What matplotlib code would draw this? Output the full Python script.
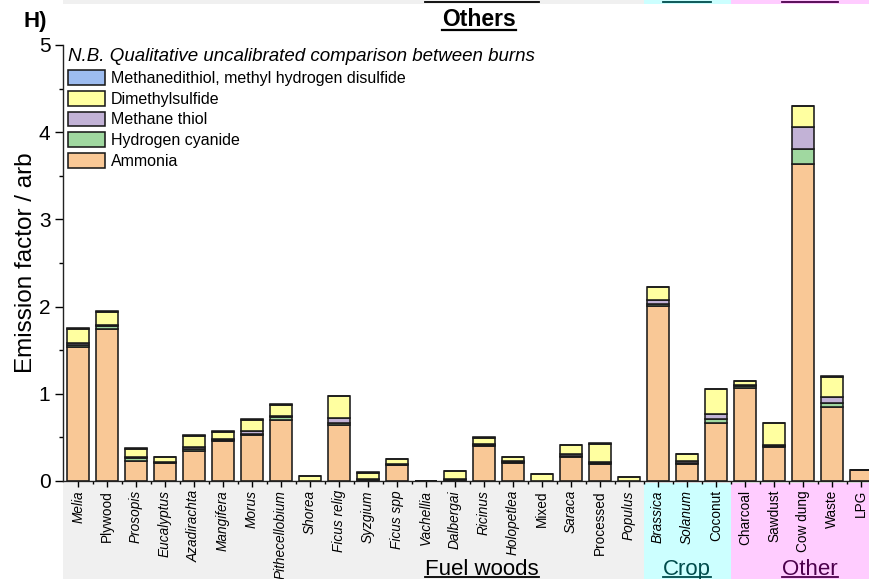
import matplotlib
matplotlib.use('Agg')
import matplotlib.pyplot as plt
from matplotlib.patches import Rectangle
from matplotlib.lines import Line2D
import matplotlib.transforms as mtransforms
import numpy as np

plt.rcParams['font.family'] = ['Liberation Sans', 'DejaVu Sans']

categories = ["Melia", "Plywood", "Prosopis", "Eucalyptus", "Azadirachta", "Mangifera",
              "Morus", "Pithecellobium", "Shorea", "Ficus relig", "Syzgium", "Ficus spp",
              "Vachellia", "Dalbergai", "Ricinus", "Holopetlea", "Mixed", "Saraca",
              "Processed", "Populus", "Brassica", "Solanum", "Coconut", "Charcoal",
              "Sawdust", "Cow dung", "Waste", "LPG"]
italic = [True, False, True, True, True, True, True, True, True, True, True, True,
          True, True, True, True, False, True, False, True, True, True, False, False,
          False, False, False, False]

ammonia = [1.54, 1.74, 0.23, 0.21, 0.345, 0.455, 0.53, 0.70, 0.005, 0.64, 0.015, 0.18,
           0.003, 0.01, 0.40, 0.21, 0.005, 0.27, 0.195, 0.005, 2.01, 0.19, 0.67, 1.063,
           0.393, 3.63, 0.85, 0.13]
hcn = [0.02, 0.04, 0.03, 0.005, 0.02, 0.015, 0.01, 0.03, 0.0, 0.02, 0.005, 0.005,
       0.0, 0.005, 0.01, 0.01, 0.0, 0.02, 0.01, 0.0, 0.02, 0.02, 0.04, 0.03,
       0.01, 0.175, 0.04, 0.0]
methane_thiol = [0.02, 0.01, 0.01, 0.005, 0.03, 0.01, 0.03, 0.01, 0.0, 0.06, 0.005, 0.005,
                 0.0, 0.005, 0.01, 0.01, 0.0, 0.02, 0.01, 0.0, 0.045, 0.02, 0.06, 0.01,
                 0.01, 0.255, 0.07, 0.0]
dms = [0.165, 0.15, 0.10, 0.06, 0.125, 0.085, 0.135, 0.135, 0.05, 0.25, 0.07, 0.065,
       0.0, 0.095, 0.075, 0.045, 0.07, 0.10, 0.215, 0.045, 0.145, 0.08, 0.28, 0.04,
       0.25, 0.24, 0.23, 0.0]
mdt = [0.005, 0.01, 0.005, 0.0, 0.01, 0.005, 0.01, 0.005, 0.0, 0.01, 0.005, 0.0,
       0.0, 0.005, 0.005, 0.0, 0.0, 0.005, 0.005, 0.0, 0.005, 0.005, 0.005, 0.005,
       0.005, 0.005, 0.015, 0.0]

series = [("Ammonia", ammonia, "#f9c896"),
          ("Hydrogen cyanide", hcn, "#a0d8a0"),
          ("Methane thiol", methane_thiol, "#c2b2d6"),
          ("Dimethylsulfide", dms, "#ffffa0"),
          ("Methanedithiol, methyl hydrogen disulfide", mdt, "#9dbcf0")]

groups = [("Fuel woods", -0.52, 19.5, "#f0f0f0", "#000000", 13.93),
          ("Crop", 19.5, 22.5, "#ccffff", "#004c4c", 21.0),
          ("Other", 22.5, 30.0, "#ffccff", "#4c004c", 25.24)]

W, H = 870, 579
fig = plt.figure(figsize=(W / 100, H / 100), dpi=100)
ax = fig.add_axes([63 / W, (H - 481) / H, (875.5 - 63) / W, (481 - 45) / H])

x = np.arange(len(categories))
bottom = np.zeros(len(categories))
handles = []
for name, vals, color in series:
    v = np.array(vals)
    b = ax.bar(x, v, 0.77, bottom=bottom, color=color, edgecolor="#1a1a1a",
               linewidth=1.15, label=name, zorder=2)
    handles.append(b)
    bottom += v

ax.set_xlim(-0.52, 27.5)
ax.set_ylim(0, 5)
for s in ("top", "right"):
    ax.spines[s].set_visible(False)
for s in ("left", "bottom"):
    ax.spines[s].set_linewidth(1.0)
    ax.spines[s].set_color("#222222")

ax.set_yticks(range(6))
ax.set_yticks(np.arange(0.5, 5, 1.0), minor=True)
ax.tick_params(axis="y", which="major", length=6, width=1, labelsize=15, pad=3)
ax.tick_params(axis="y", which="minor", length=3, width=1)
ax.set_xticks(x)
ax.set_xticks(x[:-1] + 0.5, minor=True)
ax.set_xticklabels(categories, rotation=90, fontsize=9.8, va="top", ha="center")
ax.tick_params(axis="x", which="major", length=4.5, width=1, pad=2)
ax.tick_params(axis="x", which="minor", length=2.5, width=1)
for lbl, it in zip(ax.get_xticklabels(), italic):
    if it:
        lbl.set_fontstyle("italic")

ax.set_ylabel("Emission factor / arb", fontsize=17.5, labelpad=1)

leg = ax.legend(handles[::-1], [s[0] for s in series][::-1],
                title="N.B. Qualitative uncalibrated comparison between burns",
                title_fontproperties={"style": "italic", "size": 13.5},
                alignment="left", loc="upper left", bbox_to_anchor=(0.0, 1.003),
                frameon=False, fontsize=11.5, handlelength=2.35, handleheight=1.05,
                labelspacing=0.3, handletextpad=0.35, borderpad=0.3, borderaxespad=0.0)

# group background bands below the axis
trans = mtransforms.blended_transform_factory(ax.transData, fig.transFigure)
ybot = (H - 481) / H
for name, x0, x1, bg, fc, xc in groups:
    ax.add_patch(Rectangle((x0, 0), x1 - x0, ybot - 1.5 / H, transform=trans,
                           facecolor=bg, edgecolor="none", clip_on=False, zorder=0))
    # strip of previous panel at top
    ax.add_patch(Rectangle((x0, 1 - 4 / H), x1 - x0, 4 / H, transform=trans,
                           facecolor=bg, edgecolor="none", clip_on=False, zorder=0))

texts = []
for name, x0, x1, bg, fc, xc in groups:
    t = ax.text(xc, 4 / H, name, transform=trans, ha="center", va="baseline",
                fontsize=16, color=fc, clip_on=False)
    texts.append((t, fc))

title = fig.text(479 / W, 1 - 26.5 / H, "Others", ha="center", va="baseline",
                 fontsize=16.5, fontweight="bold",
                 family=["Liberation Sans Narrow", "Liberation Sans"])
fig.text(24 / W, 1 - 27 / H, "H)", ha="left", va="baseline", fontsize=16,
         fontweight="bold", family=["Liberation Sans Narrow", "Liberation Sans"])

fig.canvas.draw()
r = fig.canvas.get_renderer()
for t, fc in texts:
    bb = t.get_window_extent(r)
    fig.add_artist(Line2D([bb.x0 / W, bb.x1 / W], [2 / H, 2 / H], color=fc,
                          lw=1.3, transform=fig.transFigure))
    fig.add_artist(Line2D([bb.x0 / W, bb.x1 / W], [1 - 2 / H, 1 - 2 / H], color=fc,
                          lw=1.3, transform=fig.transFigure))
bb = title.get_window_extent(r)
fig.add_artist(Line2D([bb.x0 / W, bb.x1 / W], [1 - 29.5 / H, 1 - 29.5 / H], color="black",
                      lw=1.6, transform=fig.transFigure))

fig.savefig("out.png", dpi=100)
